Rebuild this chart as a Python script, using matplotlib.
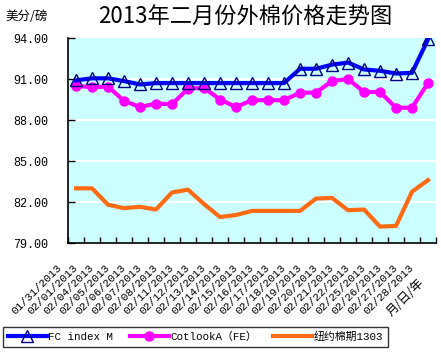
import numpy as np
import matplotlib
matplotlib.use("Agg")
import matplotlib.pyplot as plt
from matplotlib.transforms import ScaledTranslation

plt.rcParams['font.family'] = ['Liberation Mono', 'Noto Sans CJK SC', 'DejaVu Sans']

dates = ["01/31/2013", "02/01/2013", "02/04/2013", "02/05/2013", "02/06/2013",
         "02/07/2013", "02/08/2013", "02/11/2013", "02/12/2013", "02/13/2013",
         "02/14/2013", "02/15/2013", "02/16/2013", "02/17/2013", "02/18/2013",
         "02/19/2013", "02/20/2013", "02/21/2013", "02/22/2013", "02/25/2013",
         "02/26/2013", "02/27/2013", "02/28/2013"]

fc_index_m = [90.9, 91.05, 91.05, 90.85, 90.6, 90.7, 90.7, 90.7, 90.7, 90.7,
              90.7, 90.7, 90.7, 90.7, 91.75, 91.75, 92.05, 92.2, 91.7, 91.6,
              91.4, 91.45, 93.9]
cotlook_a = [90.5, 90.4, 90.45, 89.4, 88.95, 89.2, 89.15, 90.3, 90.35, 89.5,
             88.95, 89.45, 89.45, 89.45, 90.0, 90.0, 90.85, 91.0, 90.05, 90.05,
             88.9, 88.9, 90.7]
nybot_1303 = [83.0, 83.0, 81.8, 81.55, 81.65, 81.45, 82.7, 82.9, 81.85, 80.9,
              81.05, 81.35, 81.35, 81.35, 81.35, 82.25, 82.3, 81.4, 81.45, 80.2,
              80.25, 82.75, 83.6]

yticks = [79, 82, 85, 88, 91, 94]

fig = plt.figure(figsize=(4.41, 3.52), dpi=100)
ax = fig.add_axes([68/441, 1-243/352, 368/441, 205/352])
ax.set_facecolor('#CCFFFF')

x = np.arange(len(dates))
ax.plot(x, fc_index_m, color='#0000FF', lw=3, marker='^', ms=9,
        mfc='none', mec='#000080', mew=1, label='FC index M', zorder=4)
ax.plot(x, cotlook_a, color='#FF00FF', lw=3, marker='o', ms=6.5,
        label='CotlookA（FE）', zorder=3)
ax.plot(x, nybot_1303, color='#FF6A13', lw=3, label='纽约棉期1303', zorder=2)

ax.set_ylim(79, 94)
ax.set_yticks(yticks)
ax.set_yticklabels(['%.2f' % v for v in yticks], fontsize=8.5)
for v in yticks[1:-1]:
    ax.axhline(v, color='white', lw=1.5, zorder=1)

ax.set_xlim(-0.5, len(dates) - 0.5)
ax.set_xticks(x)
ax.set_xticklabels(dates, rotation=45, ha='right', va='top', fontsize=8)
ax.set_xticks(np.arange(len(dates) + 1) - 0.5, minor=True)
ax.tick_params(axis='x', which='major', length=0, pad=14)
ax.tick_params(axis='x', which='minor', length=4, direction='in', width=1)
ax.tick_params(axis='y', length=5, direction='in', width=1, pad=14)
shift = ScaledTranslation(-9/72, 0, fig.dpi_scale_trans)
for lab in ax.get_xticklabels():
    lab.set_transform(lab.get_transform() + shift)

for s in ['top', 'right']:
    ax.spines[s].set_visible(False)
for s in ['left', 'bottom']:
    ax.spines[s].set_linewidth(1.2)

fig.text(245/441, 1-17/352, '2013年二月份外棉价格走势图', fontsize=16,
         ha='center', va='center', family=['Noto Sans CJK SC'])
fig.text(5/441, 1-16/352, '美分/磅', fontsize=9, ha='left', va='center',
         family=['Noto Sans CJK SC'])
fig.text(405/441, 1-297/352, '月/日/年', fontsize=9, rotation=45,
         ha='center', va='center', family=['Noto Sans CJK SC'])

leg = fig.legend(loc='lower left', bbox_to_anchor=(3/441, 5/352), ncol=3,
                 prop={'family': ['Liberation Mono', 'Noto Sans CJK SC'], 'size': 7.8},
                 frameon=True, fancybox=False, handlelength=3.6,
                 handletextpad=0.15, columnspacing=1.5, borderpad=0.45,
                 numpoints=1, borderaxespad=0)
leg.get_frame().set_edgecolor('black')
leg.get_frame().set_linewidth(1)

fig.savefig('out.png', dpi=100)
